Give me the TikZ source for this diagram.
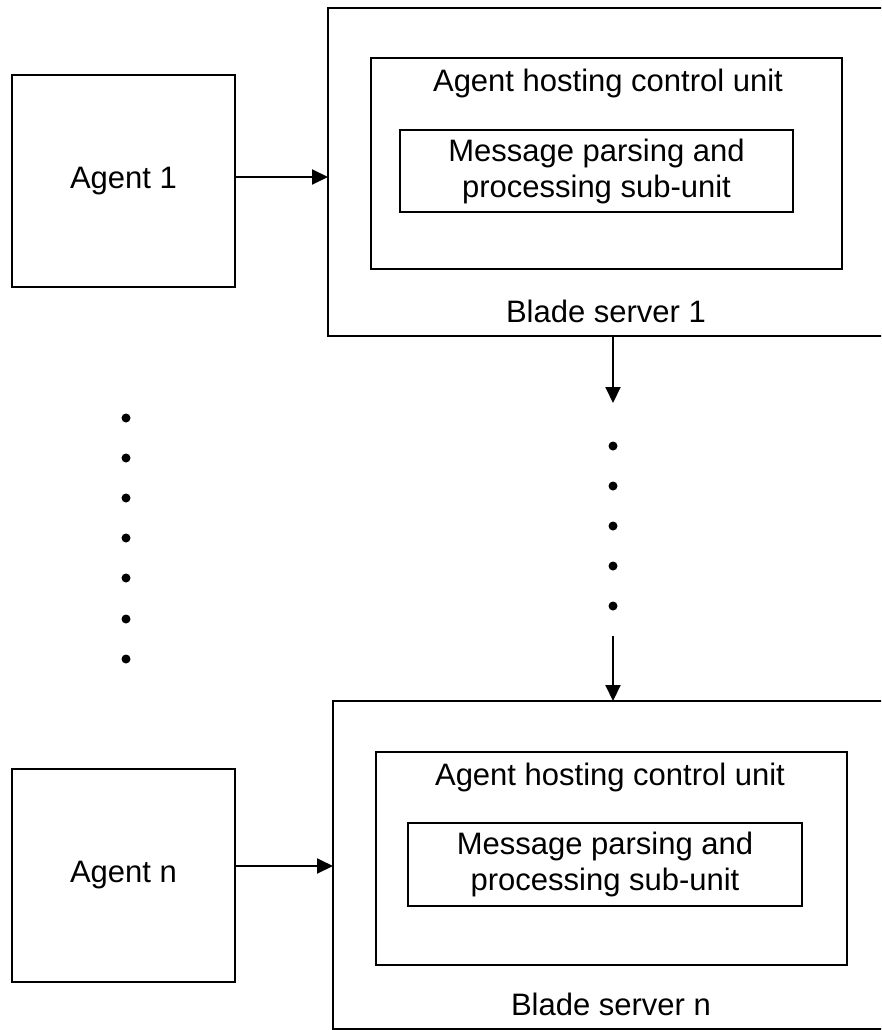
\documentclass[tikz,border=0pt]{standalone}
\usepackage{fontspec}
\setmainfont{Liberation Sans}
\usetikzlibrary{arrows.meta}
\begin{document}
\begin{tikzpicture}[x=1pt,y=-1pt,
  box/.style={draw, line width=2pt, inner sep=0pt, outer sep=0pt, align=center,
              font=\fontsize{31}{36}\selectfont},
  lbl/.style={font=\fontsize{31}{36}\selectfont, inner sep=0pt, anchor=base},
  conn/.style={line width=2pt, -{Triangle[length=16pt,width=15pt]}},
  dotmark/.style={circle, fill, inner sep=0pt, minimum size=9pt}]
\useasboundingbox (0,0) rectangle (881,1030);
\clip (0,0) rectangle (881,1030);

% ---- first agent and blade server ----
\node[box, minimum width=223pt, minimum height=212pt] (ag1) at (123.5,181) {Agent 1};
\node[box, minimum width=556pt, minimum height=328pt] (bs1) at (606,172) {};
\node[box, minimum width=471pt, minimum height=211pt] (hc1) at (606.5,163.5) {};
\node[lbl] (hc1t) at (608,92) {Agent hosting control unit};
\node[box, minimum width=393pt, minimum height=82pt] (mp1) at (596.5,171)
  {Message parsing and\\processing sub-unit};
\node[lbl] (bs1t) at (606,322) {Blade server 1};

% ---- last agent and blade server ----
\node[box, minimum width=223pt, minimum height=213pt] (agn) at (123.5,875.5) {Agent n};
\node[box, minimum width=551pt, minimum height=328pt] (bsn) at (608.5,865) {};
\node[box, minimum width=471pt, minimum height=213pt] (hcn) at (611.5,858.5) {};
\node[lbl] (hcnt) at (610,785) {Agent hosting control unit};
\node[box, minimum width=394pt, minimum height=83pt] (mpn) at (605,864.5)
  {Message parsing and\\processing sub-unit};
\node[lbl] (bsnt) at (611,1015) {Blade server n};

% ---- ellipsis dots ----
\foreach \i/\y in {1/418,2/458,3/498,4/538,5/578,6/619,7/659}
  \node[dotmark] (l\i) at (126,\y) {};
\foreach \i/\y in {1/446,2/486,3/526,4/566,5/606}
  \node[dotmark] (r\i) at (613,\y) {};

% ---- connectors ----
\coordinate (a1out) at ([yshift=4pt]ag1.east);
\draw[conn] (a1out) -- (a1out -| bs1.west);
\coordinate (anout) at ([yshift=9.5pt]agn.east);
\draw[conn] (anout) -- (anout -| bsn.west);

\coordinate (down1) at (613,403);
\draw[conn] (bs1.south -| r1) -- (down1);
\coordinate (down2) at (613,636);
\draw[conn] (down2) -- (bsn.north -| r5);
\end{tikzpicture}
\end{document}
